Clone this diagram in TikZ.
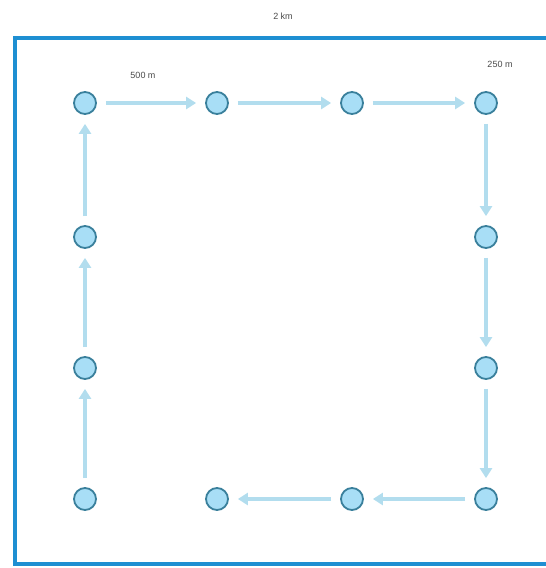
\documentclass[tikz,border=0pt]{standalone}
\usepackage{fontspec}
\setmainfont{Liberation Sans}
\usetikzlibrary{arrows.meta}
\definecolor{frameblue}{HTML}{1E8FD2}
\definecolor{nodefill}{HTML}{A8DEF6}
\definecolor{nodeline}{HTML}{3A809C}
\definecolor{arrowblue}{HTML}{B2DDEE}
\definecolor{labelgray}{HTML}{4A4A4A}
\begin{document}
\begin{tikzpicture}[x=1pt,y=-1pt,
  stop/.style={circle,draw=nodeline,fill=nodefill,line width=1.8pt,minimum size=22pt,inner sep=0pt},
  flow/.style={draw=arrowblue,line width=3.5pt,shorten <=9pt,shorten >=9pt,-{Triangle[length=10pt,width=12pt]}},
  lbl/.style={font=\fontsize{9}{10}\selectfont,text=labelgray,inner sep=1pt}]
\useasboundingbox (0,0) rectangle (546,568);
\clip (0,0) rectangle (546,568);
\fill[white] (0,0) rectangle (546,568);
\draw[frameblue,line width=4.5pt] (570,38) -- (15,38) -- (15,564) -- (570,564);
% nodes
\node[stop] (a1) at (85,103) {};
\node[stop] (a2) at (217,103) {};
\node[stop] (a3) at (352,103) {};
\node[stop] (a4) at (486,103) {};
\node[stop] (b1) at (85,237) {};
\node[stop] (b4) at (486,237) {};
\node[stop] (c1) at (85,368) {};
\node[stop] (c4) at (486,368) {};
\node[stop] (d1) at (85,499) {};
\node[stop] (d2) at (217,499) {};
\node[stop] (d3) at (352,499) {};
\node[stop] (d4) at (486,499) {};
% arrows
\draw[flow] (a1) -- (a2);
\draw[flow] (a2) -- (a3);
\draw[flow] (a3) -- (a4);
\draw[flow] (a4) -- (b4);
\draw[flow] (b4) -- (c4);
\draw[flow] (c4) -- (d4);
\draw[flow] (d4) -- (d3);
\draw[flow] (d3) -- (d2);
\draw[flow] (d1) -- (c1);
\draw[flow] (c1) -- (b1);
\draw[flow] (b1) -- (a1);
% labels
\node[lbl] (km) at (283,16) {2 km};
\node[lbl] (m500) at (143,75) {500 m};
\node[lbl] (m250) at (500,64) {250 m};
\end{tikzpicture}
\end{document}
